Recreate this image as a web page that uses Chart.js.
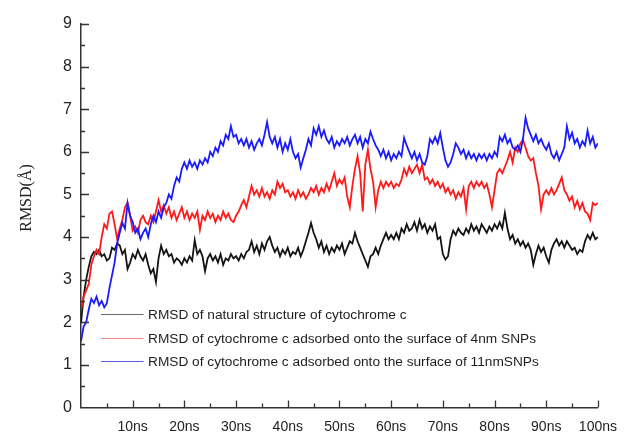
<!DOCTYPE html>
<html>
<head>
<meta charset="utf-8">
<title>RMSD of cytochrome c</title>
<script src="https://cdn.jsdelivr.net/npm/chart.js@4/dist/chart.umd.min.js"></script>
<style>
  html, body { margin: 0; padding: 0; background: #ffffff; }
  #wrap { position: relative; width: 628px; height: 434px; }
</style>
</head>
<body>
<div id="wrap"><canvas id="rmsd" width="628" height="434"></canvas></div>
<script>
// Simulation time sampling (ns between stored frames)
const sampleStepNs = 0.5;

// Tick labels of the time axis (0, 10, ..., 100 ns)
const timeTickLabels = ['', '10ns', '20ns', '30ns', '40ns', '50ns', '60ns', '70ns', '80ns', '90ns', '100ns'];
const rmsdTickLabels = ['0', '1', '2', '3', '4', '5', '6', '7', '8', '9'];

const seriesNames = [
  'RMSD of natural structure of cytochrome c',
  'RMSD of cytochrome c adsorbed onto the surface of 4nm SNPs',
  'RMSD of cytochrome c adsorbed onto the surface of 11nmSNPs'
];

// RMSD (Å), one value every 0.5 ns, rows of 5 ns
const rmsdNative = [
  1.98, 2.60, 3.00, 3.30, 3.55, 3.65, 3.60, 3.70, 3.55, 3.60,
  3.45, 3.50, 3.75, 3.70, 3.85, 3.80, 3.60, 3.70, 3.25, 3.40,
  3.60, 3.50, 3.70, 3.55, 3.45, 3.60, 3.35, 3.15, 3.25, 2.95,
  3.50, 3.80, 3.60, 3.70, 3.55, 3.60, 3.40, 3.50, 3.45, 3.35,
  3.50, 3.40, 3.55, 3.45, 3.93, 3.60, 3.70, 3.55, 3.20, 3.50,
  3.60, 3.45, 3.55, 3.40, 3.60, 3.35, 3.50, 3.45, 3.60, 3.50,
  3.55, 3.45, 3.60, 3.50, 3.65, 3.70, 3.90, 3.65, 3.80, 3.60,
  3.85, 3.70, 3.90, 4.00, 3.80, 3.65, 3.75, 3.55, 3.70, 3.60,
  3.75, 3.55, 3.65, 3.60, 3.75, 3.55, 3.70, 3.90, 4.10, 4.33,
  4.10, 3.95, 3.75, 3.90, 3.65, 3.80, 3.60, 3.75, 3.65, 3.80,
  3.70, 3.85, 3.60, 3.75, 3.90, 3.85, 4.10, 3.90, 3.75, 3.60,
  3.45, 3.30, 3.55, 3.60, 3.75, 3.60, 3.80, 3.95, 4.10, 3.95,
  4.05, 3.95, 4.10, 3.95, 4.20, 4.10, 4.30, 4.15, 4.20, 4.35,
  4.15, 4.40, 4.20, 4.30, 4.10, 4.25, 4.15, 4.30, 3.95, 4.00,
  3.60, 3.47, 3.55, 3.95, 4.15, 4.05, 4.20, 4.10, 4.05, 4.20,
  4.10, 4.30, 4.15, 4.25, 4.10, 4.30, 4.20, 4.10, 4.25, 4.15,
  4.30, 4.20, 4.35, 4.20, 4.57, 4.20, 3.95, 4.05, 3.85, 3.95,
  3.80, 3.90, 3.75, 3.85, 3.70, 3.35, 3.60, 3.80, 3.65, 3.75,
  3.55, 3.40, 3.70, 3.85, 3.95, 3.80, 3.90, 3.75, 3.90, 3.80,
  3.70, 3.75, 3.60, 3.70, 3.65, 3.90, 4.05, 3.95, 4.10, 3.95,
  4.00
];

const rmsdSnp4nm = [
  2.30, 2.60, 2.75, 2.90, 3.35, 3.55, 3.70, 3.60, 4.00, 4.30,
  4.20, 4.55, 4.60, 4.30, 3.95, 4.20, 4.40, 4.70, 4.80, 4.50,
  4.15, 4.25, 4.10, 4.40, 4.50, 4.35, 4.30, 4.50, 4.35, 4.60,
  4.87, 4.60, 4.75, 4.55, 4.70, 4.45, 4.60, 4.40, 4.55, 4.70,
  4.45, 4.60, 4.40, 4.55, 4.45, 4.60, 4.17, 4.50, 4.40, 4.60,
  4.45, 4.55, 4.35, 4.50, 4.40, 4.60, 4.45, 4.55, 4.40, 4.35,
  4.50, 4.60, 4.75, 4.87, 4.70, 4.95, 5.20, 5.00, 5.10, 4.95,
  5.15, 4.95, 5.05, 4.90, 5.10, 5.00, 5.30, 5.15, 5.25, 5.05,
  5.10, 4.95, 5.05, 4.90, 5.10, 4.95, 5.05, 4.90, 5.00, 5.15,
  5.05, 5.20, 5.00, 5.15, 5.05, 5.25, 5.10, 5.30, 5.50, 5.20,
  5.35, 5.25, 5.40, 4.95, 4.70, 5.20, 5.60, 5.90, 5.50, 4.60,
  5.70, 6.05, 5.60, 5.30, 4.70, 5.10, 5.30, 5.15, 5.30, 5.20,
  5.30, 5.15, 5.25, 5.20, 5.35, 5.60, 5.45, 5.65, 5.50, 5.60,
  5.70, 5.50, 5.70, 5.35, 5.40, 5.25, 5.35, 5.20, 5.30, 5.15,
  5.25, 5.05, 5.15, 5.00, 5.10, 4.90, 5.05, 4.95, 5.15, 4.65,
  5.20, 5.30, 5.15, 5.30, 5.20, 5.30, 5.15, 5.25, 5.00, 4.70,
  5.10, 5.50, 5.60, 5.50, 5.65, 5.80, 6.00, 5.75, 6.10, 6.00,
  6.20, 6.28, 6.10, 5.90, 5.80, 5.85, 5.50, 5.20, 4.65, 5.00,
  5.10, 5.00, 5.15, 5.00, 5.10, 5.25, 5.40, 5.10, 5.00, 4.85,
  4.95, 4.70, 4.85, 4.65, 4.80, 4.60, 4.55, 4.40, 4.80, 4.75,
  4.80
];

const rmsdSnp11nm = [
  1.55, 1.90, 2.00, 2.30, 2.55, 2.45, 2.60, 2.40, 2.50, 2.35,
  2.45, 2.80, 3.10, 3.40, 3.85, 4.10, 4.33, 4.20, 4.80, 4.50,
  4.35, 4.10, 4.20, 3.95, 4.10, 4.20, 4.00, 4.30, 4.50, 4.35,
  4.60, 4.45, 4.70, 4.80, 5.00, 4.90, 5.20, 5.40, 5.30, 5.60,
  5.75, 5.60, 5.80, 5.65, 5.75, 5.60, 5.80, 5.70, 5.85, 5.75,
  6.00, 5.90, 6.10, 6.00, 6.25, 6.15, 6.40, 6.30, 6.60, 6.35,
  6.40, 6.20, 6.30, 6.15, 6.30, 6.10, 6.25, 6.05, 6.20, 6.30,
  6.15, 6.40, 6.70, 6.35, 6.20, 6.35, 6.10, 6.30, 6.00, 6.20,
  6.05, 6.30, 6.00, 5.85, 5.95, 5.63, 5.85, 6.05, 6.30, 6.15,
  6.55, 6.40, 6.60, 6.35, 6.50, 6.30, 6.20, 6.35, 6.10, 6.25,
  6.15, 6.30, 6.20, 6.35, 6.15, 6.30, 6.40, 6.20, 6.35, 6.10,
  6.30, 6.20, 6.47, 6.30, 6.15, 6.05, 5.90, 6.05, 5.85, 6.00,
  5.80, 5.95, 5.85, 6.00, 5.90, 6.33, 6.15, 6.00, 5.85, 6.00,
  5.80, 5.95, 5.75, 5.70, 5.90, 6.30, 6.20, 6.35, 6.20, 6.44,
  6.10, 5.80, 5.65, 5.75, 5.95, 6.20, 6.10, 5.95, 6.05, 5.85,
  6.00, 5.85, 5.95, 5.80, 5.95, 5.85, 5.95, 5.80, 5.95, 5.85,
  6.00, 5.90, 6.35, 6.25, 6.40, 6.20, 6.30, 6.10, 6.05, 6.15,
  6.00, 6.30, 6.80, 6.55, 6.40, 6.25, 6.40, 6.20, 6.30, 6.15,
  6.05, 6.20, 5.95, 5.85, 6.00, 5.80, 5.95, 6.10, 6.60, 6.30,
  6.45, 6.20, 6.30, 6.10, 6.25, 6.15, 6.50, 6.20, 6.35, 6.10,
  6.20
];

const seriesValues = [rmsdNative, rmsdSnp4nm, rmsdSnp11nm];
const lineColors = ['#141414', '#ff1a1a', '#1a1aff'];
const legendLineColors = ['#6a6a6a', '#f08a8a', '#5a5ae6'];

const toPoints = values => values.map((v, i) => ({ x: i * sampleStepNs, y: v }));

// Inward major/minor ticks on the left and bottom axes
const inwardTicks = {
  id: 'inwardTicks',
  afterDraw(chart) {
    const { ctx, chartArea, scales } = chart;
    const xs = scales.x, ys = scales.y;
    ctx.save();
    ctx.strokeStyle = '#333';
    ctx.lineWidth = 1.3;
    ctx.beginPath();
    for (let t = 5; t <= 100; t += 5) {
      const px = Math.round(xs.getPixelForValue(t)) + 0.5;
      const len = t % 10 === 0 ? 7 : 4;
      ctx.moveTo(px, chartArea.bottom);
      ctx.lineTo(px, chartArea.bottom - len);
    }
    for (let v = 0.5; v <= 9; v += 0.5) {
      const py = Math.round(ys.getPixelForValue(v)) + 0.5;
      const len = Number.isInteger(v) ? 8 : 4;
      ctx.moveTo(chartArea.left, py);
      ctx.lineTo(chartArea.left + len, py);
    }
    ctx.stroke();
    ctx.restore();
  }
};

// Rotated y-axis title in a serif face
const yTitle = {
  id: 'yTitle',
  afterDraw(chart) {
    const { ctx } = chart;
    ctx.save();
    ctx.translate(27, 198);
    ctx.rotate(-Math.PI / 2);
    ctx.font = '16px "Liberation Serif", "Times New Roman", serif';
    ctx.fillStyle = '#222';
    ctx.textAlign = 'center';
    ctx.textBaseline = 'middle';
    ctx.fillText('RMSD(Å)', 0, 0);
    ctx.restore();
  }
};

// Legend placed inside the plot, lower left
const insetLegend = {
  id: 'insetLegend',
  afterDatasetsDraw(chart) {
    const { ctx } = chart;
    ctx.save();
    ctx.font = '13.7px "Liberation Sans", Arial, sans-serif';
    ctx.textBaseline = 'middle';
    ctx.textAlign = 'left';
    chart.data.datasets.forEach((ds, i) => {
      const y = Math.round(314 + i * 23.5) + 0.5;
      ctx.strokeStyle = legendLineColors[i];
      ctx.lineWidth = 1;
      ctx.beginPath();
      ctx.moveTo(101, y);
      ctx.lineTo(143.5, y);
      ctx.stroke();
      ctx.fillStyle = '#1e1e1e';
      ctx.fillText(ds.label, 148, y + 0.5);
    });
    ctx.restore();
  }
};

new Chart(document.getElementById('rmsd'), {
  type: 'line',
  data: {
    datasets: seriesValues.map((vals, i) => ({
      label: seriesNames[i],
      data: toPoints(vals),
      borderColor: lineColors[i],
      borderWidth: 1.8,
      pointRadius: 0,
      tension: 0,
      fill: false,
      order: 2 - i
    }))
  },
  options: {
    responsive: false,
    animation: false,
    layout: { padding: { left: 0, top: 24, right: 22, bottom: 0 } },
    plugins: {
      legend: { display: false },
      tooltip: { enabled: false },
      title: { display: false }
    },
    scales: {
      x: {
        type: 'linear',
        min: 0,
        max: 100,
        grid: { display: false, drawTicks: false },
        border: { display: true, color: '#333', width: 1.5 },
        ticks: {
          stepSize: 10,
          autoSkip: false,
          maxRotation: 0,
          padding: 11,
          color: '#222',
          font: { family: '"Liberation Sans", Arial, sans-serif', size: 14 },
          callback: v => timeTickLabels[Math.round(v / 10)]
        },
        afterFit: s => { s.height = 26.5; }
      },
      y: {
        min: 0,
        max: 9,
        grid: { display: false, drawTicks: false },
        border: { display: true, color: '#333', width: 1.5 },
        ticks: {
          stepSize: 1,
          padding: 9,
          color: '#222',
          font: { family: '"Liberation Sans", Arial, sans-serif', size: 16 },
          callback: v => rmsdTickLabels[Math.round(v)]
        },
        afterFit: s => { s.width = 81; }
      }
    }
  },
  plugins: [inwardTicks, yTitle, insetLegend]
});
</script>
</body>
</html>
